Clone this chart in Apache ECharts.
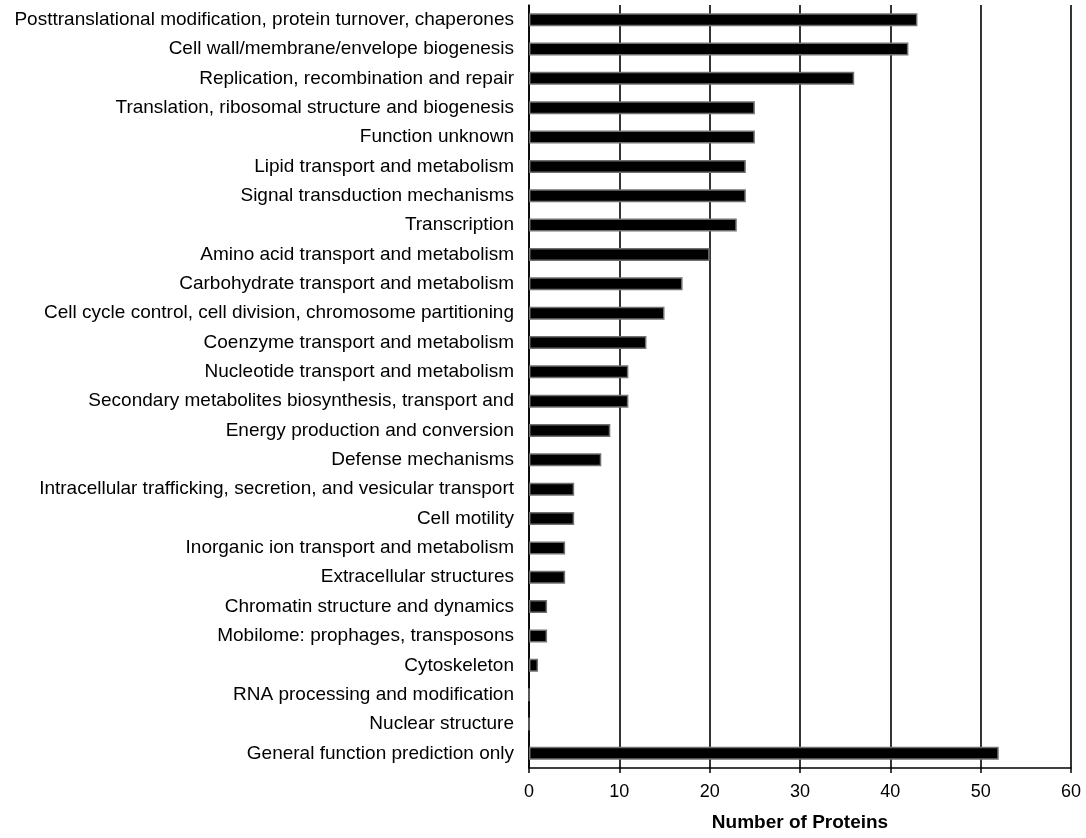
<!DOCTYPE html>
<html>
<head>
<meta charset="utf-8">
<script src="https://cdn.jsdelivr.net/npm/echarts@6/dist/echarts.min.js"></script>
<style>
html,body{margin:0;padding:0;background:#fff;}
#chart{width:1086px;height:838px;}
</style>
</head>
<body>
<div id="chart"></div>
<script>
const categories = [
  "Posttranslational modification, protein turnover, chaperones",
  "Cell wall/membrane/envelope biogenesis",
  "Replication, recombination and repair",
  "Translation, ribosomal structure and biogenesis",
  "Function unknown",
  "Lipid transport and metabolism",
  "Signal transduction mechanisms",
  "Transcription",
  "Amino acid transport and metabolism",
  "Carbohydrate transport and metabolism",
  "Cell cycle control, cell division, chromosome partitioning",
  "Coenzyme transport and metabolism",
  "Nucleotide transport and metabolism",
  "Secondary metabolites biosynthesis, transport and",
  "Energy production and conversion",
  "Defense mechanisms",
  "Intracellular trafficking, secretion, and vesicular transport",
  "Cell motility",
  "Inorganic ion transport and metabolism",
  "Extracellular structures",
  "Chromatin structure and dynamics",
  "Mobilome: prophages, transposons",
  "Cytoskeleton",
  "RNA processing and modification",
  "Nuclear structure",
  "General function prediction only"
];
const proteinCounts = [43, 42, 36, 25, 25, 24, 24, 23, 20, 17, 15, 13, 11, 11, 9, 8, 5, 5, 4, 4, 2, 2, 1, 0, 0, 52];
const xTicks = { min: 0, max: 60, interval: 10 };
const xAxisName = "Number of Proteins";

const chart = echarts.init(document.getElementById('chart'), null, {renderer: 'canvas'});
const font = '"Liberation Sans", Arial, sans-serif';
chart.setOption({
  animation: false,
  backgroundColor: '#ffffff',
  grid: { left: 529, right: 15, top: 5, bottom: 70, containLabel: false },
  xAxis: {
    type: 'value',
    min: xTicks.min, max: xTicks.max, interval: xTicks.interval,
    name: xAxisName,
    nameLocation: 'middle',
    nameGap: 45,
    nameTextStyle: { fontFamily: font, fontSize: 19, fontWeight: 'bold', color: '#000' },
    axisLine: { show: true, lineStyle: { color: '#000', width: 1.5 } },
    axisTick: { show: true, length: 5, lineStyle: { color: '#000', width: 1.5 } },
    axisLabel: { fontFamily: font, fontSize: 18, color: '#000', margin: 15 },
    splitLine: { show: true, lineStyle: { color: '#000', width: 1.6 } }
  },
  yAxis: {
    type: 'category',
    data: categories,
    inverse: true,
    axisLine: { show: true, lineStyle: { color: '#000', width: 1.5 } },
    axisTick: { show: false },
    axisLabel: { fontFamily: font, fontSize: 19, color: '#000', margin: 15 },
    splitLine: { show: false }
  },
  series: [{
    type: 'bar',
    data: proteinCounts,
    barWidth: 13,
    itemStyle: { color: '#000', borderColor: '#707070', borderWidth: 1.5 }
  }]
});
</script>
</body>
</html>
